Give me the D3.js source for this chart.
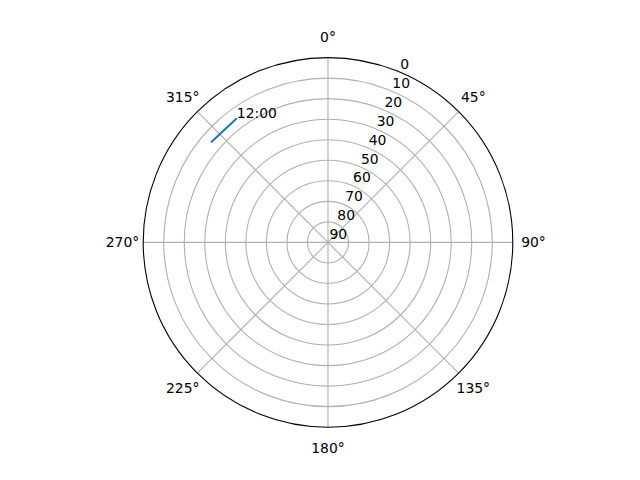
<!DOCTYPE html>
<html>
<head>
<meta charset="utf-8">
<script src="https://cdn.jsdelivr.net/npm/d3@7.9.0/dist/d3.min.js"></script>
<style>
  html, body { margin: 0; padding: 0; background: #fff; }
  svg text { font-family: "DejaVu Sans", sans-serif; font-size: 13.9px; fill: #000; }
</style>
</head>
<body>
<svg id="chart" width="640" height="480"></svg>
<script>
// azimuth (deg) and zenith-style radial value of the path
const azimuths = [310.6, 323.7];
const radii = [15, 15];
const pointLabels = ['', '12:00'];

const radialTicks = [0, 10, 20, 30, 40, 50, 60, 70, 80, 90];
const angleTicks = [0, 45, 90, 135, 180, 225, 270, 315];

const cx = 328;
const cy = 242.4;
const outerRadius = 184.8;

const svg = d3.select('#chart');
const g = svg.append('g').attr('transform', `translate(${cx},${cy})`);

// radial axis is inverted: 90 at the centre, 0 at the rim
const rScale = d3.scaleLinear().domain([90, 0]).range([0, outerRadius]);
const aScale = d3.scaleLinear().domain([0, 360]).range([0, 2 * Math.PI]);

const polar = (deg, r) => {
  const a = aScale(deg);
  return [Math.sin(a) * r, -Math.cos(a) * r];
};

// circular grid
g.selectAll('circle.grid')
  .data(radialTicks.filter((d) => d !== 0 && d !== 90))
  .join('circle')
  .attr('class', 'grid')
  .attr('r', (d) => rScale(d))
  .attr('fill', 'none')
  .attr('stroke', '#b0b0b0')
  .attr('stroke-width', 1.1);

// spokes
g.selectAll('line.spoke')
  .data(angleTicks)
  .join('line')
  .attr('class', 'spoke')
  .attr('x1', 0)
  .attr('y1', 0)
  .attr('x2', (d) => polar(d, outerRadius)[0])
  .attr('y2', (d) => polar(d, outerRadius)[1])
  .attr('stroke', '#b0b0b0')
  .attr('stroke-width', 1.1);

// data line
const points = azimuths.map((az, i) => ({ az, r: radii[i], label: pointLabels[i] }));

const line = d3.lineRadial()
  .angle((d) => aScale(d.az))
  .radius((d) => rScale(d.r));

g.append('path')
  .datum(points)
  .attr('d', line)
  .attr('fill', 'none')
  .attr('stroke', '#1f77b4')
  .attr('stroke-width', 2.08)
  .attr('stroke-linecap', 'butt');

// spine
g.append('circle')
  .attr('r', outerRadius)
  .attr('fill', 'none')
  .attr('stroke', '#000')
  .attr('stroke-width', 1.1);

// angular tick labels
g.selectAll('text.theta')
  .data(angleTicks)
  .join('text')
  .attr('class', 'theta')
  .attr('x', (d) => polar(d, outerRadius + 20.7)[0])
  .attr('y', (d) => polar(d, outerRadius + 20.7)[1])
  .attr('dy', '0.36em')
  .attr('text-anchor', 'middle')
  .text((d) => `${d}°`);

// radial tick labels along 22.5°
g.selectAll('text.rlabel')
  .data(radialTicks)
  .join('text')
  .attr('class', 'rlabel')
  .attr('x', (d) => polar(22.5, rScale(d))[0] + 1.5)
  .attr('y', (d) => polar(22.5, rScale(d))[1] - 3)
  .attr('text-anchor', 'start')
  .text((d) => d);

// point annotation
g.selectAll('text.note')
  .data(points.filter((d) => d.label))
  .join('text')
  .attr('class', 'note')
  .attr('x', (d) => polar(d.az, rScale(d.r))[0])
  .attr('y', (d) => polar(d.az, rScale(d.r))[1])
  .text((d) => d.label);
</script>
</body>
</html>
